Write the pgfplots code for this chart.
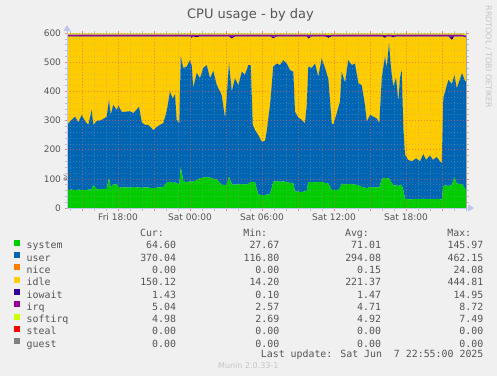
\documentclass[border=0pt]{standalone}
\usepackage{pgfplots}
\pgfplotsset{compat=1.18}
\usepackage{pgfplotstable}
\usepackage{fontspec}
\setmainfont{DejaVu Sans}
\newfontfamily\mono{DejaVu Sans Mono}
\usetikzlibrary{arrows.meta}
\definecolor{csys}{HTML}{00CC00}
\definecolor{cuser}{HTML}{0066B3}
\definecolor{cnice}{HTML}{FF8000}
\definecolor{cidle}{HTML}{FFCC00}
\definecolor{ciowait}{HTML}{330099}
\definecolor{cirq}{HTML}{990099}
\definecolor{csoftirq}{HTML}{CCFF00}
\definecolor{csteal}{HTML}{FF0000}
\definecolor{cguest}{HTML}{808080}
\definecolor{txt}{HTML}{555555}
\definecolor{bg}{HTML}{F0F0F0}
\definecolor{axcol}{RGB}{190,198,240}

\pgfplotstableread{
t sys user nice idle iowait irq softirq steal guest
13.75 62 223 0 303 1.4 4.7 4.9 0 0
14.14 63 239 0 286 1.4 4.7 4.9 0 0
14.42 61 252 0 275 1.4 4.7 4.9 0 0
14.69 63 231 0 294 1.4 4.7 4.9 0 0
14.98 62 257 0 269 1.4 4.7 4.9 0 0
15.25 61 237 0 290 1.4 4.7 4.9 0 0
15.53 63 222 0 303 1.4 4.7 4.9 0 0
15.81 64 272 0 252 1.4 4.7 4.9 0 0
15.94 79 206 0 303 1.4 4.7 4.9 0 0
16.23 64 234 0 290 1.4 4.7 4.9 0 0
16.64 65 237 0 286 1.4 4.7 4.9 0 0
17.06 66 247 0 275 1.4 4.7 4.9 0 0
17.25 103 267 0 218 1.4 4.7 4.9 0 0
17.39 70 250 0 268 1.4 4.7 4.9 0 0
17.61 80 273 0 235 1.4 4.7 4.9 0 0
17.89 82 254 0 252 1.4 4.7 4.9 0 0
18.03 72 278 0 238 1.4 4.7 4.9 0 0
18.31 70 260 0 258 1.4 4.7 4.9 0 0
18.58 71 259 0 258 1.4 4.7 4.9 0 0
19.00 70 262 0 256 1.4 4.7 4.9 0 0
19.28 72 253 0 263 1.4 4.7 4.9 0 0
19.75 70 277 0 241 1.4 4.7 4.9 0 0
19.98 69 225 0 294 1.4 4.7 4.9 0 0
20.25 71 214 0 303 1.4 4.7 4.9 0 0
20.53 70 215 0 303 1.4 4.7 4.9 0 0
20.94 68 199 0 321 1.4 4.7 4.9 0 0
21.23 70 208 0 310 1.4 4.7 4.9 0 0
21.50 71 214 0 303 1.4 4.7 4.9 0 0
21.78 72 219 0 297 1.4 4.7 4.9 0 0
22.08 88 248 0 252 1.4 4.7 4.9 0 0
22.33 90 309 0 189 1.4 4.7 4.9 0 0
22.56 86 289 0 213 1.4 4.7 4.9 0 0
22.75 88 302 0 198 1.4 4.7 4.9 0 0
22.89 85 217 0 286 1.4 4.7 4.9 0 0
23.11 80 210 0 298 1.4 4.7 4.9 0 0
23.23 140 379 0 69 1.4 4.7 4.9 0 0
23.44 92 388 0 108 1.4 4.7 4.9 0 0
23.73 88 397 0 103 1.4 4.7 4.9 0 0
24.00 92 415 0 81 1.4 4.7 4.9 0 0
24.14 90 400 0 92 6.0 6.0 5.0 0 0
24.27 91 320 0 177 1.4 4.7 4.9 0 0
24.56 95 368 0 122 4.0 5.0 5.0 0 0
24.83 102 343 0 143 1.4 4.7 4.9 0 0
25.11 104 376 0 108 1.4 4.7 4.9 0 0
25.39 106 384 0 98 1.4 4.7 4.9 0 0
25.67 104 341 0 143 1.4 4.7 4.9 0 0
25.94 100 370 0 118 1.4 4.7 4.9 0 0
26.23 98 324 0 166 1.4 4.7 4.9 0 0
26.64 80 307 0 201 1.4 4.7 4.9 0 0
26.92 78 230 0 280 1.4 4.7 4.9 0 0
27.06 80 300 0 208 1.4 4.7 4.9 0 0
27.25 107 390 0 91 1.4 4.7 4.9 0 0
27.48 82 317 0 181 8.0 6.0 5.0 0 0
27.75 80 365 0 143 1.4 4.7 4.9 0 0
28.03 81 339 0 168 1.4 4.7 4.9 0 0
28.31 82 385 0 121 1.4 4.7 4.9 0 0
28.58 80 377 0 131 1.4 4.7 4.9 0 0
28.86 83 407 0 98 1.4 4.7 4.9 0 0
29.06 90 400 0 98 1.4 4.7 4.9 0 0
29.23 90 195 0 303 1.4 4.7 4.9 0 0
29.42 88 179 0 321 1.4 4.7 4.9 0 0
29.69 46 204 0 338 1.4 4.7 4.9 0 0
29.98 45 182 0 361 1.4 4.7 4.9 0 0
30.25 44 186 0 358 1.4 4.7 4.9 0 0
30.39 46 216 0 326 1.4 4.7 4.9 0 0
30.67 48 305 0 235 1.4 4.7 4.9 0 0
30.94 90 395 0 96 7.0 6.0 5.0 0 0
31.23 92 403 0 93 1.4 4.7 4.9 0 0
31.50 90 400 0 98 1.4 4.7 4.9 0 0
31.78 91 416 0 81 1.4 4.7 4.9 0 0
32.06 89 406 0 93 1.4 4.7 4.9 0 0
32.33 86 387 0 115 1.4 4.7 4.9 0 0
32.61 84 383 0 121 1.4 4.7 4.9 0 0
32.75 56 274 0 258 1.4 4.7 4.9 0 0
33.03 56 254 0 278 1.4 4.7 4.9 0 0
33.31 55 247 0 286 1.4 4.7 4.9 0 0
33.58 57 233 0 298 1.4 4.7 4.9 0 0
33.73 60 293 0 235 1.4 4.7 4.9 0 0
33.86 88 397 0 95 8.0 6.0 5.0 0 0
34.14 89 391 0 108 1.4 4.7 4.9 0 0
34.42 88 407 0 93 1.4 4.7 4.9 0 0
34.69 90 360 0 138 1.4 4.7 4.9 0 0
34.98 89 424 0 75 1.4 4.7 4.9 0 0
35.25 86 394 0 108 1.4 4.7 4.9 0 0
35.53 84 359 0 140 6.0 4.7 4.9 0 0
35.81 62 229 0 297 1.4 4.7 4.9 0 0
35.94 62 223 0 303 1.4 4.7 4.9 0 0
36.23 61 264 0 263 1.4 4.7 4.9 0 0
36.50 68 297 0 223 1.4 4.7 4.9 0 0
36.64 84 383 0 121 1.4 4.7 4.9 0 0
36.92 80 350 0 158 1.4 4.7 4.9 0 0
37.19 82 425 0 81 1.4 4.7 4.9 0 0
37.48 83 407 0 98 1.4 4.7 4.9 0 0
37.75 80 415 0 93 1.4 4.7 4.9 0 0
38.03 78 350 0 160 1.4 4.7 4.9 0 0
38.31 72 349 0 167 1.4 4.7 4.9 0 0
38.58 70 283 0 235 1.4 4.7 4.9 0 0
38.73 68 228 0 292 1.4 4.7 4.9 0 0
39.00 72 247 0 269 1.4 4.7 4.9 0 0
39.28 70 243 0 275 1.4 4.7 4.9 0 0
39.56 71 236 0 281 1.4 4.7 4.9 0 0
39.78 70 221 0 297 1.4 4.7 4.9 0 0
39.98 100 346 0 142 1.4 4.7 4.9 0 0
40.25 104 415 0 64 6.0 4.7 4.9 0 0
40.39 102 378 0 108 1.4 4.7 4.9 0 0
40.58 102 463 0 23 1.4 4.7 4.9 0 0
40.75 90 390 0 108 1.4 4.7 4.9 0 0
40.94 78 338 0 168 5.0 4.7 4.9 0 0
41.17 77 369 0 142 1.4 4.7 4.9 0 0
41.36 76 288 0 224 1.4 4.7 4.9 0 0
41.50 78 368 0 142 1.4 4.7 4.9 0 0
41.64 80 393 0 115 1.4 4.7 4.9 0 0
41.78 60 214 0 314 1.4 4.7 4.9 0 0
41.92 32 150 0 406 1.4 4.7 4.9 0 0
42.17 30 135 0 423 1.4 4.7 4.9 0 0
42.50 30 130 0 428 1.4 4.7 4.9 0 0
42.83 31 139 0 418 1.4 4.7 4.9 0 0
43.17 30 130 0 428 1.4 4.7 4.9 0 0
43.44 32 153 0 403 1.4 4.7 4.9 0 0
43.67 30 135 0 423 1.4 4.7 4.9 0 0
44.00 31 149 0 408 1.4 4.7 4.9 0 0
44.25 30 135 0 423 1.4 4.7 4.9 0 0
44.56 31 144 0 413 1.4 4.7 4.9 0 0
44.83 30 130 0 428 1.4 4.7 4.9 0 0
44.98 30 124 0 434 1.4 4.7 4.9 0 0
45.11 76 301 0 211 1.4 4.7 4.9 0 0
45.33 77 333 0 178 1.4 4.7 4.9 0 0
45.53 76 363 0 149 1.4 4.7 4.9 0 0
45.83 78 347 0 150 12.0 7.0 5.0 0 0
46.03 107 349 0 132 1.4 4.7 4.9 0 0
46.23 84 326 0 178 1.4 4.7 4.9 0 0
46.42 83 350 0 155 1.4 4.7 4.9 0 0
46.67 82 380 0 126 1.4 4.7 4.9 0 0
46.92 65 370 0 150.12 1.43 5.04 4.98 0 0
47.00 64.60 370.04 0 150.12 1.43 5.04 4.98 0 0
}\cpudata

\newcommand\lrow[5]{\makebox[149.3pt]{#1\hfill #2}\makebox[103.3pt][r]{#3}\makebox[101.7pt][r]{#4}\makebox[102.3pt][r]{#5}}

\begin{document}
\begin{tikzpicture}
\fill[bg] (0,0) rectangle (497pt,376pt);
\begin{axis}[
  name=ax,
  at={(67pt,168pt)}, anchor=south west,
  scale only axis, width=399pt, height=175pt,
  xmin=13.75, xmax=47, ymin=0, ymax=600,
  stack plots=y,
  axis on top,
  axis line style={draw=none},
  xtick={15,18,...,45},
  xticklabels={,Fri 18:00,,Sat 00:00,,Sat 06:00,,Sat 12:00,,Sat 18:00,},
  minor xtick={14,...,47},
  ytick={0,100,...,600},
  minor ytick={20,40,...,580},
  grid=both,
  major grid style={draw=red!75, draw opacity=0.45, line width=0.5pt, dash pattern=on 1pt off 2pt},
  minor grid style={draw=gray!70, draw opacity=0.35, line width=0.5pt, dash pattern=on 1pt off 2pt},
  tick align=outside, xtick pos=both, ytick pos=both,
  major tick length=2.5pt, minor tick length=2.5pt,
  major tick style={red!50, line width=0.5pt},
  minor tick style={gray!50, line width=0.5pt},
  tick label style={font=\fontsize{9}{10}\selectfont, text=txt},
  /pgf/number format/assume math mode=true,
  ylabel={\%},
  ylabel style={at={(axis description cs:0,0.5)}, anchor=center, xshift=-57pt, font=\fontsize{9}{10}\selectfont, text=txt},
  legend style={at={(axis description cs:-0.1328,-0.1811)}, anchor=north west,
    draw=none, fill=none, inner sep=0pt, outer sep=0pt,
    row sep=0pt, column sep=6.7pt,
    font=\mono\fontsize{9.9}{12}\selectfont, text=txt,
    nodes={inner sep=0pt, text height=8.8pt, text depth=3.2pt}},
  legend cell align=left,
  legend image code/.code={\fill[#1, draw=none] (0pt,0.3pt) rectangle (6pt,6.3pt);},
]
\addplot[fill=csys, draw=none] table[x=t, y=sys] {\cpudata} \closedcycle;
\addlegendentry{\lrow{system}{64.60}{27.67}{71.01}{145.97}}
\addplot[fill=cuser, draw=none] table[x=t, y=user] {\cpudata} \closedcycle;
\addlegendentry{\lrow{user}{370.04}{116.80}{294.08}{462.15}}
\addplot[fill=cnice, draw=none] table[x=t, y=nice] {\cpudata} \closedcycle;
\addlegendentry{\lrow{nice}{0.00}{0.00}{0.15}{24.08}}
\addplot[fill=cidle, draw=none] table[x=t, y=idle] {\cpudata} \closedcycle;
\addlegendentry{\lrow{idle}{150.12}{14.20}{221.37}{444.81}}
\addplot[fill=ciowait, draw=none] table[x=t, y=iowait] {\cpudata} \closedcycle;
\addlegendentry{\lrow{iowait}{1.43}{0.10}{1.47}{14.95}}
\addplot[fill=cirq, draw=none] table[x=t, y=irq] {\cpudata} \closedcycle;
\addlegendentry{\lrow{irq}{5.04}{2.57}{4.71}{8.72}}
\addplot[fill=csoftirq, draw=none] table[x=t, y=softirq] {\cpudata} \closedcycle;
\addlegendentry{\lrow{softirq}{4.98}{2.69}{4.92}{7.49}}
\addplot[fill=csteal, draw=none] table[x=t, y=steal] {\cpudata} \closedcycle;
\addlegendentry{\lrow{steal}{0.00}{0.00}{0.00}{0.00}}
\addplot[fill=cguest, draw=none] table[x=t, y=guest] {\cpudata} \closedcycle;
\addlegendentry{\lrow{guest}{0.00}{0.00}{0.00}{0.00}}
\end{axis}
\draw[gray!70, line width=0.8pt] (ax.south east) -- (ax.north east);
\draw[axcol, line width=1pt, -{Triangle[length=6pt,width=7pt]}] (ax.south west) -- ([yshift=8pt]ax.north west);
\draw[axcol, line width=1pt, -{Triangle[length=6pt,width=7pt]}] (ax.south west) -- ([xshift=8pt]ax.south east);
\node[anchor=base, text=txt, font=\fontsize{13}{15}\selectfont, inner sep=0pt] at (250.5pt,357.7pt) {CPU usage - by day};
\node[rotate=-90, text=gray!45, font=\fontsize{8}{9}\selectfont, inner sep=0pt] at (488.5pt,319pt) {RRDTOOL / TOBI OETIKER};
\begin{scope}[every node/.style={anchor=base east, inner sep=0pt, text=txt, font=\mono\fontsize{9.9}{12}\selectfont}]
\node at (164.1pt,139.3pt) {Cur:};
\node at (267.4pt,139.3pt) {Min:};
\node at (369.1pt,139.3pt) {Avg:};
\node at (471.4pt,139.3pt) {Max:};
\node at (483.6pt,19pt) {Last update: Sat Jun\ \ 7 22:55:00 2025};
\end{scope}
\node[anchor=base, inner sep=0pt, text=gray!45, font=\fontsize{8}{9}\selectfont] at (248.3pt,7.7pt) {Munin 2.0.33-1};
\pgfresetboundingbox
\useasboundingbox (0,0) rectangle (497pt,376pt);
\end{tikzpicture}
\end{document}
